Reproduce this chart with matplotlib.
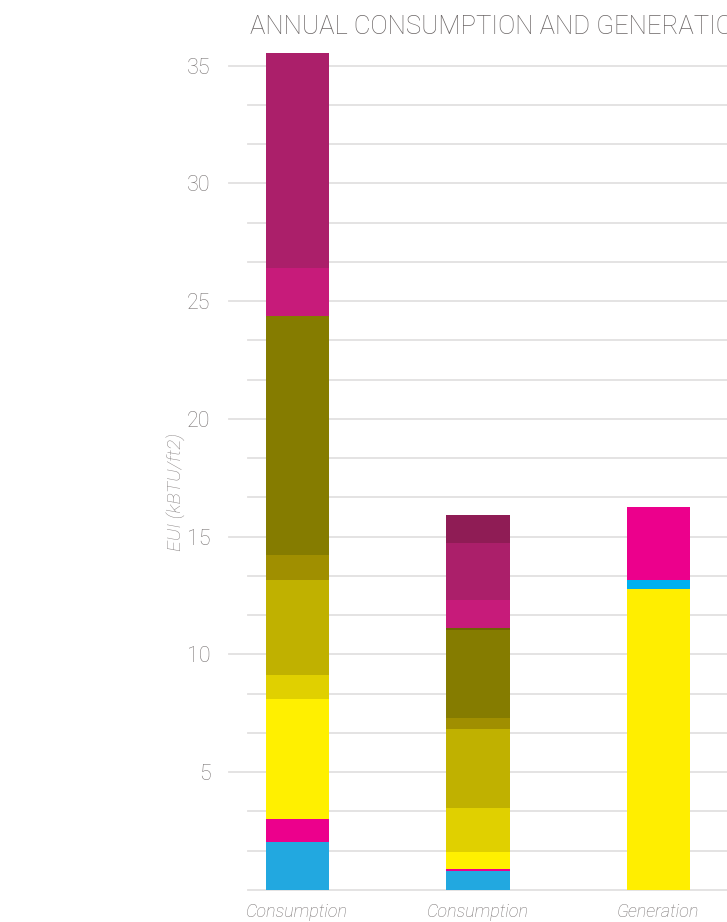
import numpy as np
import matplotlib.pyplot as plt

categories = ['Consumption\nASHRAE 90.1 2010', 'Consumption\nNEXUS', 'Generation\nNEXUS']

# consumption end uses, bottom to top (kBTU/ft2)
cons_cyan = [2.04, 0.81, 0.0]
cons_magenta = [0.97, 0.08, 0.0]
cons_yellow = [5.09, 0.72, 0.0]
cons_lightolive = [1.02, 1.87, 0.0]
cons_olivey = [4.03, 3.35, 0.0]
cons_olived = [1.06, 0.47, 0.0]
cons_olive = [10.14, 3.73, 0.0]
cons_darkolive = [0.0, 0.09, 0.0]
cons_pink = [2.04, 1.18, 0.0]
cons_purple = [9.16, 2.42, 0.0]
cons_maroon = [0.0, 1.19, 0.0]
# generation, bottom to top
gen_yellow = [0.0, 0.0, 12.77]
gen_cyan = [0.0, 0.0, 0.38]
gen_magenta = [0.0, 0.0, 3.10]

series = [
    (cons_cyan, '#22a8e0'),
    (cons_magenta, '#ec008c'),
    (cons_yellow, '#fff000'),
    (cons_lightolive, '#e0d000'),
    (cons_olivey, '#c0b100'),
    (cons_olived, '#a08f00'),
    (cons_olive, '#857c00'),
    (cons_darkolive, '#6b6500'),
    (cons_pink, '#c71b7a'),
    (cons_purple, '#ab1f6a'),
    (cons_maroon, '#8f1c55'),
    (gen_yellow, '#ffee00'),
    (gen_cyan, '#00b0f0'),
    (gen_magenta, '#ec008c'),
]

FONT = 'Roboto'

W, H = 727, 922
fig = plt.figure(figsize=(W / 100, H / 100), dpi=100)
ax = fig.add_axes([248 / W, 32 / H, (W - 248) / W, 848 / H])

x = np.arange(len(categories))
bottom = np.zeros(len(categories))
for vals, col in series:
    ax.bar(x, vals, width=0.35, bottom=bottom, color=col, zorder=3)
    bottom += np.array(vals)

ax.set_xlim(-0.274, 2.38)
ax.set_ylim(0, 36)

# gridlines every 5/3, labels every 5
for v in np.arange(0, 36, 5 / 3):
    major = abs(v / 5 - round(v / 5)) < 1e-6 and v > 0
    ax.plot([-0.38 if major else -0.274, 2.38], [v, v], color='#e2e0e0',
            lw=1.3, zorder=1, clip_on=False)

ax.set_yticks([5, 10, 15, 20, 25, 30, 35])
ax.tick_params(axis='y', length=0, pad=27, labelsize=15.5, labelcolor='#7a7575')
for lab in ax.get_yticklabels():
    lab.set_fontfamily(FONT)
    lab.set_fontweight('light')
ax.set_xticks(x)
ax.set_xticklabels(categories, fontsize=13, color='#7a7575', style='italic',
                   family=FONT, fontweight='light', linespacing=1.2)
ax.tick_params(axis='x', length=0, pad=9)

for s in ax.spines.values():
    s.set_visible(False)

ax.set_ylabel('EUI (kBTU/ft2)', fontsize=14, color='#8a8585', style='italic',
              family=FONT, fontweight='light', labelpad=10)
ax.yaxis.set_label_coords(-0.13, 0.47)

fig.text(250 / W, 1 - 27 / H, 'ANNUAL CONSUMPTION AND GENERATION', fontsize=18.5,
         color='#6a6565', family=FONT, fontweight='light', va='center', ha='left')

fig.savefig('out.png', dpi=100)
